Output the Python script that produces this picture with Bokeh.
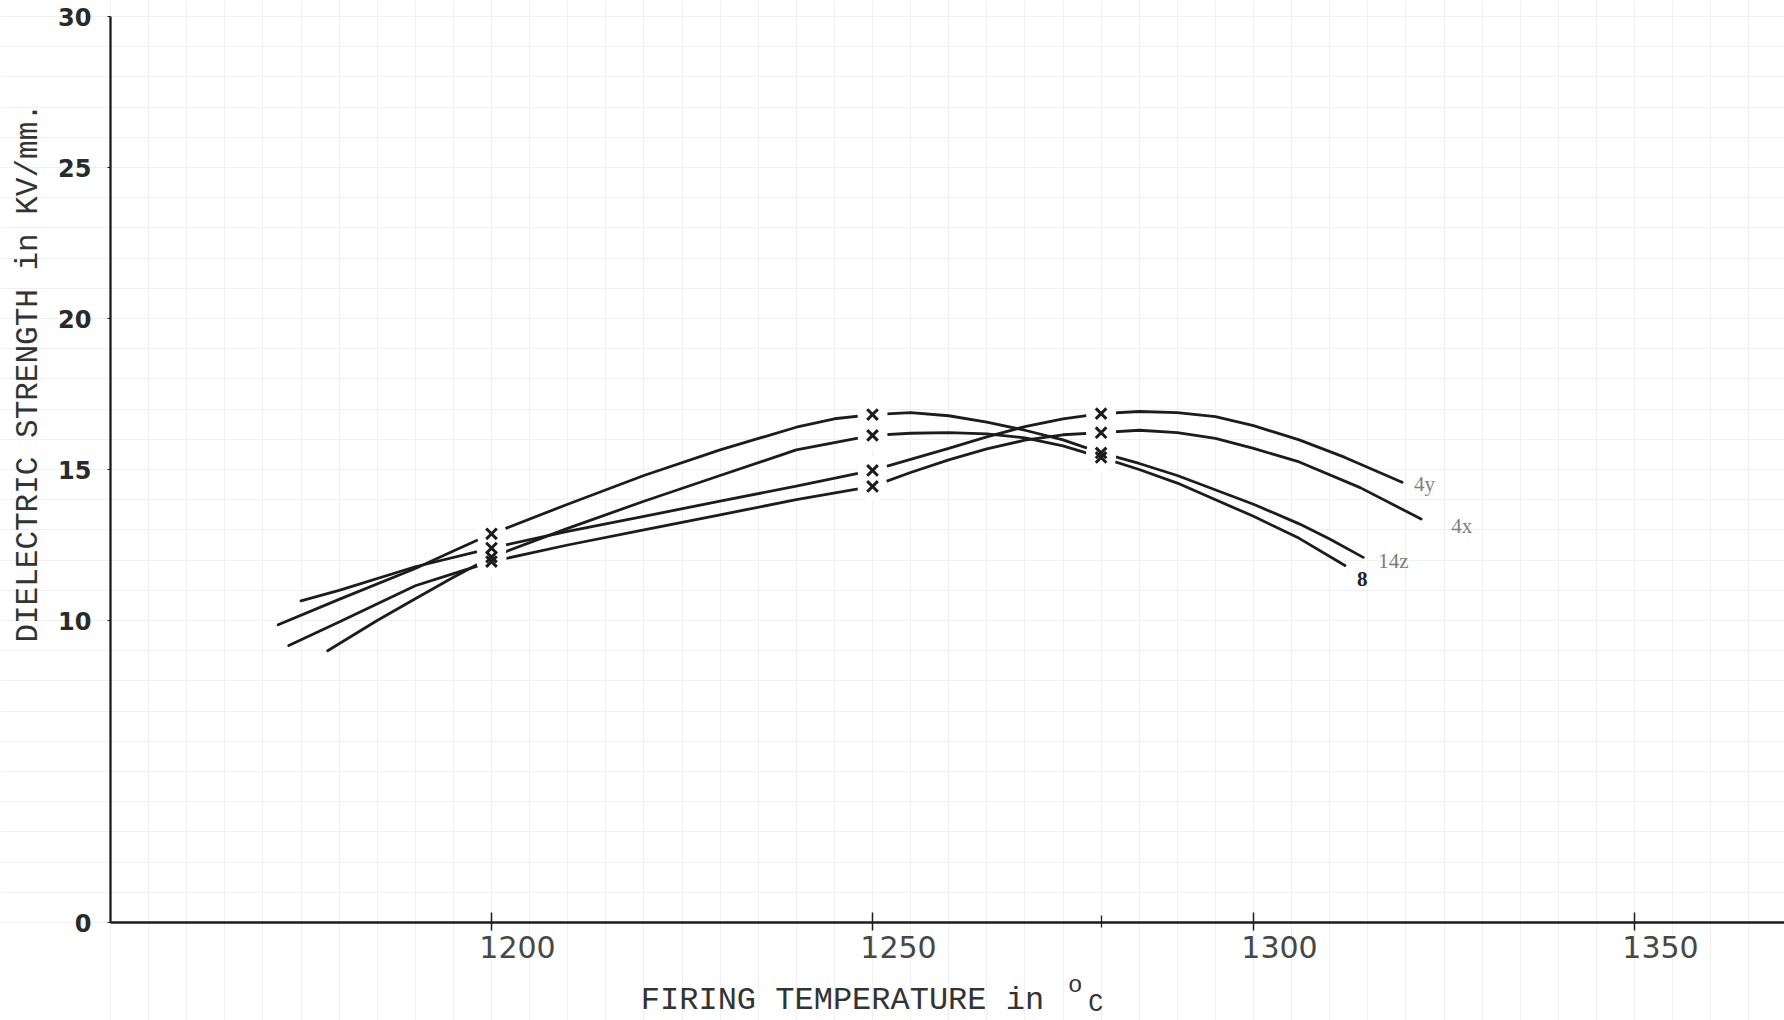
import math
from bokeh.plotting import figure
from bokeh.models import FixedTicker, SingleIntervalTicker, Label, ColumnDataSource, Range1d
from bokeh.core.properties import value
from bokeh.embed import file_html
from bokeh.resources import INLINE

# Firing temperature (deg C) along each drawn curve and the dielectric strength (kV/mm) on it
temp_4y = [1175, 1180, 1190, 1200, 1210, 1220, 1230, 1240, 1250, 1260, 1265, 1270, 1275,
           1280, 1285, 1290, 1295, 1300, 1306, 1312, 1319.5]
kv_4y = [10.65, 11.0, 11.78, 12.4, 12.95, 13.45, 13.95, 14.45, 14.97, 15.7, 16.08, 16.42, 16.68,
         16.85, 16.92, 16.88, 16.75, 16.45, 15.98, 15.4, 14.58]

temp_4x = [1173.4, 1180, 1190, 1195, 1200, 1210, 1220, 1230, 1240, 1250, 1255, 1260, 1265, 1270,
           1275, 1280, 1285, 1290, 1295, 1300, 1306, 1314, 1322]
kv_4x = [9.17, 9.95, 11.15, 11.55, 11.95, 12.5, 13.0, 13.5, 14.0, 14.44, 14.9, 15.32, 15.68, 15.97,
         16.15, 16.22, 16.3, 16.22, 16.03, 15.7, 15.25, 14.4, 13.36]

temp_14z = [1172, 1180, 1190, 1195, 1200, 1210, 1220, 1230, 1240, 1245, 1250, 1255, 1260, 1265,
            1270, 1275, 1280, 1285, 1290, 1300, 1306, 1310, 1314.4]
kv_14z = [9.86, 10.7, 11.72, 12.3, 12.87, 13.85, 14.8, 15.65, 16.4, 16.68, 16.82, 16.88, 16.78, 16.57,
          16.3, 15.98, 15.55, 15.2, 14.8, 13.85, 13.2, 12.7, 12.09]

temp_8 = [1178.5, 1185, 1190, 1195, 1200, 1210, 1220, 1230, 1240, 1250, 1255, 1260, 1265, 1270,
          1275, 1280, 1285, 1290, 1300, 1306, 1312]
kv_8 = [9.0, 10.0, 10.72, 11.43, 12.1, 13.05, 13.95, 14.8, 15.65, 16.13, 16.2, 16.22, 16.18, 16.05,
        15.78, 15.4, 15.0, 14.55, 13.45, 12.72, 11.82]

curve_names = ["4y", "4x", "14z", "8"]
fired_at = [1200, 1250, 1280]          # temperatures marked with a cross on every curve

x_tick_values = [1200, 1250, 1300, 1350]
x_tick_labels = ["1200", "1250", "1300", "1350"]
x_minor_values = [1280]
y_tick_values = [0, 10, 15, 20, 25, 30]

x_title = "FIRING TEMPERATURE in"
y_title = "DIELECTRIC STRENGTH in KV/mm."

INK = "#1c1c1c"
TYPE = "#333333"
W, H = 1784, 1020
PX_PER_DEG = 7.62
PX_PER_KV = 30.2
ORIGIN_PX = (110, 922)        # where 1150 deg / 0 kV sits on the sheet

x0 = 1150 - ORIGIN_PX[0] / PX_PER_DEG
y0 = -(H - ORIGIN_PX[1]) / PX_PER_KV
p = figure(width=W, height=H, output_backend="svg", toolbar_location=None,
           x_range=Range1d(x0, x0 + W / PX_PER_DEG),
           y_range=Range1d(y0, y0 + H / PX_PER_KV),
           min_border=0, min_border_left=0, min_border_right=0,
           min_border_top=0, min_border_bottom=0)
p.outline_line_color = None
p.background_fill_color = "white"
p.border_fill_color = "white"

# faint graph-paper rulings over the whole sheet
p.xgrid.ticker = SingleIntervalTicker(interval=5)
p.ygrid.ticker = SingleIntervalTicker(interval=1)
p.xgrid.grid_line_color = "#f0f0f0"
p.ygrid.grid_line_color = "#f0f0f0"

# axes drawn through the origin of the sheet
p.xaxis.fixed_location = 0
p.xaxis.bounds = (1150, x0 + W / PX_PER_DEG)
p.xaxis.ticker = FixedTicker(ticks=x_tick_values, minor_ticks=x_minor_values)
p.xaxis.axis_line_color = INK
p.xaxis.axis_line_width = 2.3
p.xaxis.major_tick_line_color = INK
p.xaxis.major_tick_line_width = 1.5
p.xaxis.major_tick_in = 10
p.xaxis.major_tick_out = 8
p.xaxis.minor_tick_line_color = INK
p.xaxis.minor_tick_line_width = 1.3
p.xaxis.minor_tick_in = 7
p.xaxis.minor_tick_out = 5
p.xaxis.major_label_text_color = None   # numbers are typed beside the ticks below

p.yaxis.fixed_location = 1150
p.yaxis.bounds = (0, 30)
p.yaxis.ticker = FixedTicker(ticks=y_tick_values)
p.yaxis.axis_line_color = INK
p.yaxis.axis_line_width = 2.3
p.yaxis.major_tick_line_color = INK
p.yaxis.major_tick_in = 0
p.yaxis.major_tick_out = 3
p.yaxis.minor_tick_line_color = None
p.yaxis.major_label_text_font = "DejaVu Sans"
p.yaxis.major_label_text_font_style = "bold"
p.yaxis.major_label_text_font_size = "24px"
p.yaxis.major_label_text_color = "#2a2a2a"
p.yaxis.major_label_standoff = 16

# temperature numbers, set just to the right of each tick
p.text(x=x_tick_values, y=[0] * len(x_tick_values), text=x_tick_labels,
       x_offset=26, y_offset=24, text_font=value("DejaVu Sans"), text_font_size="30px",
       text_color="#474747", text_align="center", text_baseline="middle")

series = [(curve_names[0], temp_4y, kv_4y), (curve_names[1], temp_4x, kv_4x),
          (curve_names[2], temp_14z, kv_14z), (curve_names[3], temp_8, kv_8)]

for name, t, v in series:
    p.line(t, v, line_color=INK, line_width=2.8, line_cap="round")

# crosses at the measured temperatures, with the pen lifted around each one
mx, my = [], []
for name, t, v in series:
    for tt, vv in zip(t, v):
        if tt in fired_at:
            mx.append(tt)
            my.append(vv)
p.scatter(mx, my, marker="circle", size=30, fill_color="white", line_color=None)
p.scatter(mx, my, marker="x", size=15, line_color=INK, line_width=3)

# curve names typed at the right-hand ends
label_dx = [12, 30, 15, 12]
label_dy = [2, 7, 4, 13]
ends = ColumnDataSource(dict(
    x=[t[-1] for _, t, _ in series],
    y=[v[-1] for _, _, v in series],
    text=curve_names,
    dx=label_dx, dy=label_dy,
    color=["#808080", "#808080", "#7a7a7a", "#222222"],
    style=["normal", "normal", "normal", "bold"],
))
p.text(x="x", y="y", text="text", source=ends, x_offset="dx", y_offset="dy",
       text_color="color", text_font=value("Liberation Serif"), text_font_size="21px",
       text_font_style="style", text_align="left", text_baseline="middle")

# axis titles in typewriter face
p.add_layout(Label(x=x0 + 28 / PX_PER_DEG, y=18.2, text=y_title, angle=math.pi / 2,
                   text_font="Liberation Mono", text_font_size="31px", text_color=TYPE,
                   text_align="center", text_baseline="middle"))
p.add_layout(Label(x=1219.6, y=-2.58, text=x_title,
                   text_font="Liberation Mono", text_font_size="32px", text_color=TYPE,
                   text_align="left", text_baseline="middle"))
p.add_layout(Label(x=1276.6, y=-2.08, text="o",
                   text_font="Liberation Mono", text_font_size="24px", text_color=TYPE,
                   text_align="center", text_baseline="middle"))
p.add_layout(Label(x=1279.3, y=-2.7, text="C",
                   text_font="Liberation Mono", text_font_size="25px", text_color=TYPE,
                   text_align="center", text_baseline="middle"))

open("out.html", "w").write(file_html(p, INLINE))
